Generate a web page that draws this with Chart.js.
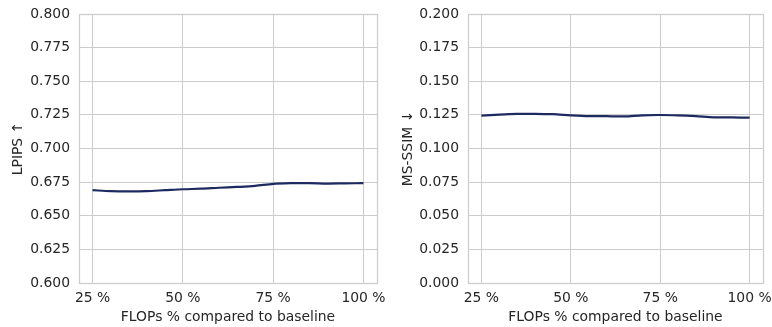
<!DOCTYPE html>
<html>
<head>
<meta charset="utf-8">
<script src="https://cdn.jsdelivr.net/npm/chart.js@4/dist/chart.umd.min.js"></script>
<style>
  html, body { margin: 0; padding: 0; background: #ffffff; }
  #wrap { position: relative; width: 772px; height: 327px; }
  .panel { position: absolute; top: 0; height: 327px; }
  #left { left: 0; width: 390px; }
  #right { left: 390px; width: 382px; }
</style>
</head>
<body>
<div id="wrap">
  <div class="panel" id="left"><canvas id="cLeft" width="390" height="327"></canvas></div>
  <div class="panel" id="right"><canvas id="cRight" width="382" height="327"></canvas></div>
</div>
<script>
// Compute budget (% of baseline FLOPs)
const flopsPct = [25, 30, 35, 40, 45, 50, 55, 60, 65, 70, 75, 80, 85, 90, 95, 100];
// Quality metrics at each compute budget
const lpips  = [0.6690, 0.6683, 0.6681, 0.6683, 0.6690, 0.6697, 0.6701, 0.6708,
                0.6714, 0.6722, 0.6737, 0.6742, 0.6743, 0.6739, 0.6741, 0.6742];
const msssim = [0.1245, 0.1252, 0.1257, 0.1258, 0.1255, 0.1247, 0.1241, 0.1240,
                0.1239, 0.1247, 0.1249, 0.1246, 0.1240, 0.1232, 0.1231, 0.1229];
// Tick labels
const xTicks = [25, 50, 75, 100];
const yTicksLeft  = [0.600, 0.625, 0.650, 0.675, 0.700, 0.725, 0.750, 0.775, 0.800];
const yTicksRight = [0.000, 0.025, 0.050, 0.075, 0.100, 0.125, 0.150, 0.175, 0.200];

const FONT = "'DejaVu Sans', sans-serif";
const TEXT = '#262626';
const GRID = '#cccccc';
const LINE = '#1d2a60';
const FS = 13.9;

// Light frame around the plotting area
const frame = {
  id: 'frame',
  beforeDatasetsDraw(chart) {
    const a = chart.chartArea, ctx = chart.ctx;
    ctx.save();
    ctx.strokeStyle = GRID;
    ctx.lineWidth = 1.25;
    ctx.strokeRect(Math.round(a.left) + 0.5, Math.round(a.top) + 0.5,
                   Math.round(a.right - a.left), Math.round(a.bottom - a.top));
    ctx.restore();
  }
};

// Let tick labels overhang the plot area instead of shrinking it
function noOverhang(s) {
  s.paddingLeft = 0; s.paddingRight = 0; s.paddingTop = 0; s.paddingBottom = 0;
}

function makePanel(canvasId, values, yTicks, yTitle, yAxisWidth, padRight) {
  const toPoints = values.map((v, i) => ({ x: flopsPct[i], y: v }));
  return new Chart(document.getElementById(canvasId), {
    type: 'line',
    data: {
      datasets: [{
        data: toPoints,
        borderColor: LINE,
        borderWidth: 2.2,
        pointRadius: 0,
        tension: 0.3,
        fill: false
      }]
    },
    options: {
      responsive: false,
      animation: false,
      layout: { padding: { top: 14, right: padRight, left: 0, bottom: 0 } },
      plugins: { legend: { display: false }, tooltip: { enabled: false } },
      scales: {
        x: {
          type: 'linear',
          min: 21.25, max: 103.75,
          afterBuildTicks: s => { s.ticks = xTicks.map(v => ({ value: v })); },
          afterFit: s => { s.height = 44; noOverhang(s); },
          grid: { color: GRID, lineWidth: 1, drawTicks: false },
          border: { display: false },
          ticks: {
            color: TEXT, padding: 7,
            font: { family: FONT, size: FS },
            callback: v => v + ' %',
            maxRotation: 0
          },
          title: {
            display: true, text: 'FLOPs % compared to baseline',
            color: TEXT, font: { family: FONT, size: FS },
            padding: { top: 0, bottom: 1 }
          }
        },
        y: {
          min: yTicks[0], max: yTicks[yTicks.length - 1],
          afterBuildTicks: s => { s.ticks = yTicks.map(v => ({ value: v })); },
          afterFit: s => { s.width = yAxisWidth; noOverhang(s); },
          grid: { color: GRID, lineWidth: 1, drawTicks: false },
          border: { display: false },
          ticks: {
            color: TEXT, padding: 9,
            font: { family: FONT, size: FS },
            callback: v => v.toFixed(3)
          },
          title: {
            display: true, text: yTitle,
            color: TEXT, font: { family: FONT, size: FS },
            padding: { top: 10, bottom: 0 }
          }
        }
      }
    },
    plugins: [frame]
  });
}

makePanel('cLeft', lpips, yTicksLeft, 'LPIPS \u2191', 79, 13);
makePanel('cRight', msssim, yTicksRight, 'MS-SSIM \u2193', 78, 9);
</script>
</body>
</html>
